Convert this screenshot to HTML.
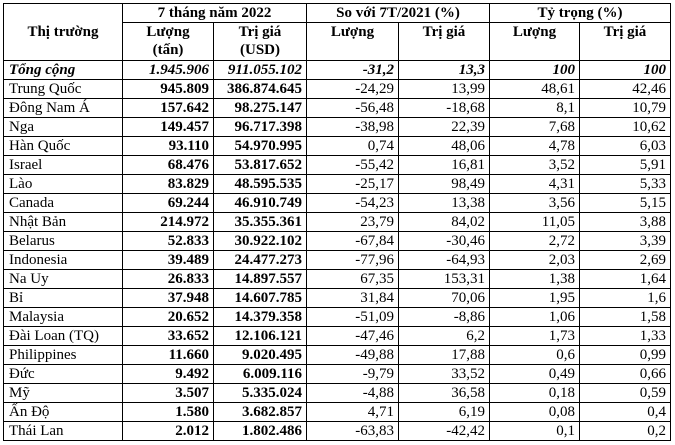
<!DOCTYPE html>
<html><head><meta charset="utf-8"><style>
body{margin:0;background:#fff;width:675px;height:445px;overflow:hidden}
table{position:absolute;left:3px;top:3px;border-collapse:collapse;table-layout:fixed;font-family:"Liberation Serif",serif;font-size:15px;color:#000}
td{border:1px solid #000;padding:0 4px;height:18px;line-height:18px;white-space:nowrap;overflow:hidden}
td.n{text-align:right}
td.l{text-align:left;padding-left:5px}
.b{font-weight:bold}
.h td{text-align:center;font-weight:bold;vertical-align:top}
.t td{font-weight:bold;font-style:italic}
</style></head><body>
<table>
<colgroup><col style="width:119px"><col style="width:91px"><col style="width:93px"><col style="width:92px"><col style="width:91px"><col style="width:90px"><col style="width:91px"></colgroup>
<tr class="h"><td rowspan="2" style="vertical-align:middle;height:56px">Thị trường</td><td colspan="2">7 tháng năm 2022</td><td colspan="2">So với 7T/2021 (%)</td><td colspan="2">Tỷ trọng (%)</td></tr>
<tr class="h"><td style="height:37px;line-height:18px">Lượng<br>(tấn)</td><td style="line-height:18px">Trị giá<br>(USD)</td><td style="line-height:18px">Lượng</td><td style="line-height:18px">Trị giá</td><td style="line-height:18px">Lượng</td><td style="line-height:18px">Trị giá</td></tr>
<tr class="t"><td class="l">Tổng cộng</td><td class="n">1.945.906</td><td class="n">911.055.102</td><td class="n">-31,2</td><td class="n">13,3</td><td class="n">100</td><td class="n">100</td></tr>
<tr><td class="l">Trung Quốc</td><td class="n b">945.809</td><td class="n b">386.874.645</td><td class="n">-24,29</td><td class="n">13,99</td><td class="n">48,61</td><td class="n">42,46</td></tr>
<tr><td class="l">Đông Nam Á</td><td class="n b">157.642</td><td class="n b">98.275.147</td><td class="n">-56,48</td><td class="n">-18,68</td><td class="n">8,1</td><td class="n">10,79</td></tr>
<tr><td class="l">Nga</td><td class="n b">149.457</td><td class="n b">96.717.398</td><td class="n">-38,98</td><td class="n">22,39</td><td class="n">7,68</td><td class="n">10,62</td></tr>
<tr><td class="l">Hàn Quốc</td><td class="n b">93.110</td><td class="n b">54.970.995</td><td class="n">0,74</td><td class="n">48,06</td><td class="n">4,78</td><td class="n">6,03</td></tr>
<tr><td class="l">Israel</td><td class="n b">68.476</td><td class="n b">53.817.652</td><td class="n">-55,42</td><td class="n">16,81</td><td class="n">3,52</td><td class="n">5,91</td></tr>
<tr><td class="l">Lào</td><td class="n b">83.829</td><td class="n b">48.595.535</td><td class="n">-25,17</td><td class="n">98,49</td><td class="n">4,31</td><td class="n">5,33</td></tr>
<tr><td class="l">Canada</td><td class="n b">69.244</td><td class="n b">46.910.749</td><td class="n">-54,23</td><td class="n">13,38</td><td class="n">3,56</td><td class="n">5,15</td></tr>
<tr><td class="l">Nhật Bản</td><td class="n b">214.972</td><td class="n b">35.355.361</td><td class="n">23,79</td><td class="n">84,02</td><td class="n">11,05</td><td class="n">3,88</td></tr>
<tr><td class="l">Belarus</td><td class="n b">52.833</td><td class="n b">30.922.102</td><td class="n">-67,84</td><td class="n">-30,46</td><td class="n">2,72</td><td class="n">3,39</td></tr>
<tr><td class="l">Indonesia</td><td class="n b">39.489</td><td class="n b">24.477.273</td><td class="n">-77,96</td><td class="n">-64,93</td><td class="n">2,03</td><td class="n">2,69</td></tr>
<tr><td class="l">Na Uy</td><td class="n b">26.833</td><td class="n b">14.897.557</td><td class="n">67,35</td><td class="n">153,31</td><td class="n">1,38</td><td class="n">1,64</td></tr>
<tr><td class="l">Bỉ</td><td class="n b">37.948</td><td class="n b">14.607.785</td><td class="n">31,84</td><td class="n">70,06</td><td class="n">1,95</td><td class="n">1,6</td></tr>
<tr><td class="l">Malaysia</td><td class="n b">20.652</td><td class="n b">14.379.358</td><td class="n">-51,09</td><td class="n">-8,86</td><td class="n">1,06</td><td class="n">1,58</td></tr>
<tr><td class="l">Đài Loan (TQ)</td><td class="n b">33.652</td><td class="n b">12.106.121</td><td class="n">-47,46</td><td class="n">6,2</td><td class="n">1,73</td><td class="n">1,33</td></tr>
<tr><td class="l">Philippines</td><td class="n b">11.660</td><td class="n b">9.020.495</td><td class="n">-49,88</td><td class="n">17,88</td><td class="n">0,6</td><td class="n">0,99</td></tr>
<tr><td class="l">Đức</td><td class="n b">9.492</td><td class="n b">6.009.116</td><td class="n">-9,79</td><td class="n">33,52</td><td class="n">0,49</td><td class="n">0,66</td></tr>
<tr><td class="l">Mỹ</td><td class="n b">3.507</td><td class="n b">5.335.024</td><td class="n">-4,88</td><td class="n">36,58</td><td class="n">0,18</td><td class="n">0,59</td></tr>
<tr><td class="l">Ấn Độ</td><td class="n b">1.580</td><td class="n b">3.682.857</td><td class="n">4,71</td><td class="n">6,19</td><td class="n">0,08</td><td class="n">0,4</td></tr>
<tr><td class="l">Thái Lan</td><td class="n b">2.012</td><td class="n b">1.802.486</td><td class="n">-63,83</td><td class="n">-42,42</td><td class="n">0,1</td><td class="n">0,2</td></tr>
</table>
</body></html>
